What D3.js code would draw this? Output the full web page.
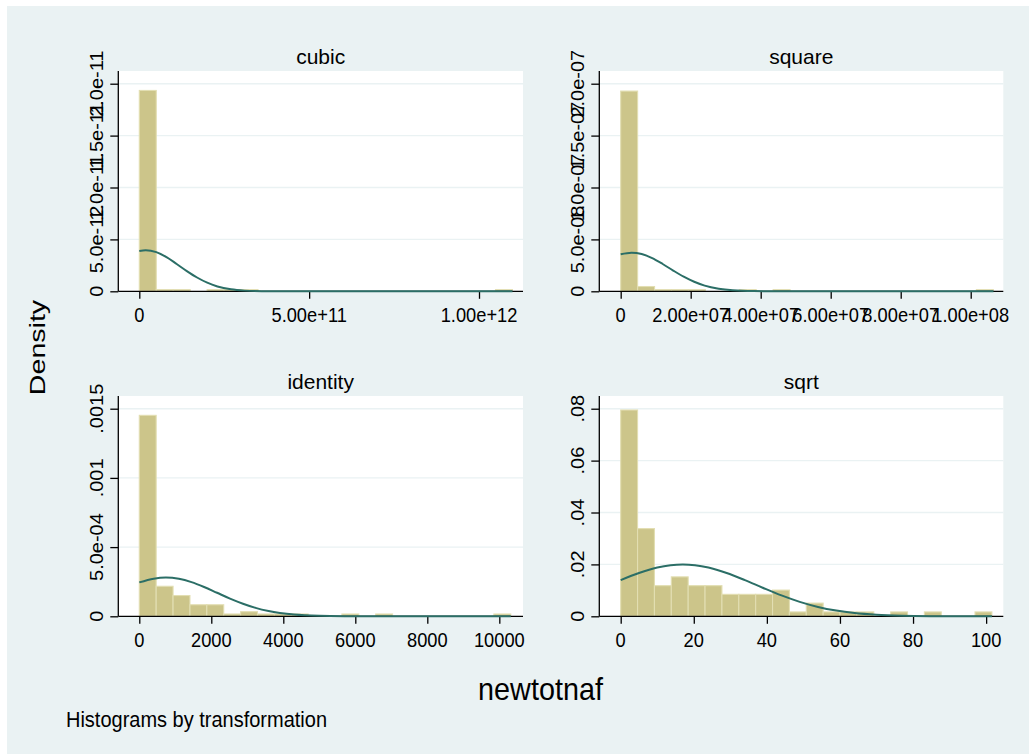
<!DOCTYPE html>
<html><head><meta charset="utf-8">
<script src="https://cdn.jsdelivr.net/npm/d3@7"></script>
<style>
body{margin:0;background:#fff}
svg{display:block}
text{font-family:"Liberation Sans",Arial,sans-serif;fill:#000}
</style>
</head><body>
<svg id="chart" width="1029" height="754"></svg>
<script>
// ---------- data ----------
const panelTitles = ["cubic", "square", "identity", "sqrt"];
const binCount = 22;
const binWidths = [4.993e10, 4.839e6, 469, 4.617];

const cubicDensity = [1.935e-11, 1.6e-13, 1.6e-13, 0, 1.6e-13, 1.6e-13, 1.6e-13, 0, 0, 0, 0, 0, 0, 0, 0, 0, 0, 0, 0, 0, 0, 1.6e-13];
const squareDensity = [1.929e-7, 4.6e-9, 1.6e-9, 1.6e-9, 1.6e-9, 0, 0, 1.6e-9, 0, 1.6e-9, 0, 0, 0, 0, 0, 0, 0, 0, 0, 0, 0, 1.6e-9];
const identityDensity = [0.001452, 0.000217, 0.000150, 0.0000833, 0.0000833, 0.0000167, 0.0000333, 0.0000167, 0.0000167, 0.0000167, 0, 0, 0.0000167, 0, 0.0000167, 0, 0, 0, 0, 0, 0, 0.0000167];
const sqrtDensity = [0.0795, 0.0338, 0.0118, 0.0152, 0.0118, 0.0118, 0.00846, 0.00846, 0.00846, 0.0101, 0.00169, 0.00508, 0.00169, 0.00169, 0.00169, 0, 0.00169, 0, 0.00169, 0, 0, 0.00169];

// normal-density overlay, points
const cubicCurveX = [0, 1.9e10, 5e10, 8e10, 1.1e11, 1.4e11, 1.7e11, 2.0e11, 2.3e11, 2.7e11, 3.1e11, 3.6e11, 4.5e11, 1.0985e12];
const cubicCurveY = [3.88e-12, 3.95e-12, 3.77e-12, 3.29e-12, 2.63e-12, 1.95e-12, 1.33e-12, 8.3e-13, 4.7e-13, 1.9e-13, 6.5e-14, 1.3e-14, 0, 0];
const squareCurveX = [0, 3.1e6, 6e6, 9e6, 1.2e7, 1.5e7, 1.8e7, 2.1e7, 2.4e7, 2.8e7, 3.2e7, 3.8e7, 4.5e7, 6e7, 1.065e8];
const squareCurveY = [3.57e-8, 3.72e-8, 3.59e-8, 3.2e-8, 2.63e-8, 2.0e-8, 1.41e-8, 9.2e-9, 5.5e-9, 2.5e-9, 9.7e-10, 1.8e-10, 2e-11, 0, 0];
const identityCurveX = [0, 400, 740, 1100, 1450, 1800, 2160, 2520, 2880, 3230, 3590, 4300, 5000, 5700, 6500, 8000, 10318];
const identityCurveY = [2.45e-4, 2.72e-4, 2.80e-4, 2.71e-4, 2.47e-4, 2.12e-4, 1.70e-4, 1.28e-4, 9.1e-5, 6.1e-5, 3.8e-5, 1.23e-5, 3.2e-6, 6.7e-7, 8e-8, 0, 0];
const sqrtCurveX = [0, 5, 10, 17, 24, 29, 34, 39, 44, 49, 54, 59, 64, 70, 77, 85, 93, 101.6];
const sqrtCurveY = [0.01394, 0.0167, 0.0188, 0.0200, 0.0188, 0.0167, 0.01394, 0.01092, 0.00804, 0.00556, 0.0036, 0.0022, 0.00126, 0.0006, 0.00022, 0.00006, 0.000015, 0];

// axis domains and ticks
const xDomains = [[-6.18e10, 1.1295e12], [-6.11e6, 1.0931e8], [-583, 10658], [-5.855, 104.7]];
const yDomains = [[0, 2.1224e-11], [0, 2.1224e-7], [0, 0.0015918], [0, 0.0849]];
const cubicXTicks = [0, 5e11, 1e12];
const cubicXLabels = ["0", "5.00e+11", "1.00e+12"];
const cubicYTicks = [0, 5e-12, 1e-11, 1.5e-11, 2e-11];
const cubicYLabels = ["0", "5.0e-12", "1.0e-11", "1.5e-11", "2.0e-11"];
const squareXTicks = [0, 2e7, 4e7, 6e7, 8e7, 1e8];
const squareXLabels = ["0", "2.00e+07", "4.00e+07", "6.00e+07", "8.00e+07", "1.00e+08"];
const squareYTicks = [0, 5e-8, 1e-7, 1.5e-7, 2e-7];
const squareYLabels = ["0", "5.0e-08", "1.0e-07", "1.5e-07", "2.0e-07"];
const identityXTicks = [0, 2000, 4000, 6000, 8000, 10000];
const identityXLabels = ["0", "2000", "4000", "6000", "8000", "10000"];
const identityYTicks = [0, 0.0005, 0.001, 0.0015];
const identityYLabels = ["0", "5.0e-04", ".001", ".0015"];
const sqrtXTicks = [0, 20, 40, 60, 80, 100];
const sqrtXLabels = ["0", "20", "40", "60", "80", "100"];
const sqrtYTicks = [0, 0.02, 0.04, 0.06, 0.08];
const sqrtYLabels = ["0", ".02", ".04", ".06", ".08"];

const yAxisTitle = "Density";
const xAxisTitle = "newtotnaf";
const noteText = "Histograms by transformation";

// ---------- styling / layout ----------
const W = 1029, H = 754;
const BG = "#eaf2f3";
const BAR_FILL = "#ccc58a";
const BAR_STROKE = "#e2deb2";
const CURVE = "#2b6e66";
const GRID = "#eaf2f3";
const SH = 1.12;   // vertical stretch of horizontal text in the reference

const plotBoxes = [
  {x0: 118.3, x1: 523, y0: 71, y1: 291.3},
  {x0: 599.3, x1: 1003.3, y0: 71, y1: 291.3},
  {x0: 118.3, x1: 523, y0: 396, y1: 616.3},
  {x0: 599.3, x1: 1003.3, y0: 396, y1: 616.3}
];

const densities = [cubicDensity, squareDensity, identityDensity, sqrtDensity];
const curvesX = [cubicCurveX, squareCurveX, identityCurveX, sqrtCurveX];
const curvesY = [cubicCurveY, squareCurveY, identityCurveY, sqrtCurveY];
const xTicks = [cubicXTicks, squareXTicks, identityXTicks, sqrtXTicks];
const xLabels = [cubicXLabels, squareXLabels, identityXLabels, sqrtXLabels];
const yTicks = [cubicYTicks, squareYTicks, identityYTicks, sqrtYTicks];
const yLabels = [cubicYLabels, squareYLabels, identityYLabels, sqrtYLabels];

const svg = d3.select("#chart");
svg.append("rect").attr("x", 0).attr("y", 0).attr("width", W).attr("height", H).attr("fill", "#fff");
svg.append("rect").attr("x", 7).attr("y", 6).attr("width", W - 7).attr("height", H - 6).attr("fill", BG);

panelTitles.forEach((title, p) => {
  const b = plotBoxes[p];
  const x = d3.scaleLinear().domain(xDomains[p]).range([b.x0, b.x1]);
  const y = d3.scaleLinear().domain(yDomains[p]).range([b.y1, b.y0]);
  const g = svg.append("g");

  // plot region
  g.append("rect").attr("x", b.x0).attr("y", b.y0).attr("width", b.x1 - b.x0).attr("height", b.y1 - b.y0).attr("fill", "#fff");

  // grid
  g.selectAll(".grid").data(yTicks[p].slice(1)).join("line")
    .attr("x1", b.x0).attr("x2", b.x1)
    .attr("y1", d => y(d)).attr("y2", d => y(d))
    .attr("stroke", GRID).attr("stroke-width", 1.4);

  // bars
  const bw = binWidths[p];
  const bins = densities[p].map((d, i) => ({x0: i * bw, x1: (i + 1) * bw, d}));
  g.selectAll(".bar").data(bins.filter(b => b.d > 0)).join("rect")
    .attr("x", d => x(d.x0)).attr("width", d => x(d.x1) - x(d.x0))
    .attr("y", d => y(d.d)).attr("height", d => y(0) - y(d.d))
    .attr("fill", BAR_FILL).attr("stroke", BAR_STROKE).attr("stroke-width", 1.1);

  // axes
  const yAxis = d3.axisLeft(y).tickValues(yTicks[p]).tickSize(8).tickSizeOuter(0).tickFormat("");
  const ya = g.append("g").attr("transform", `translate(${b.x0},0)`).call(yAxis);
  ya.select(".domain").attr("d", `M0,${b.y0}V${b.y1}`);
  const xAxis = d3.axisBottom(x).tickValues(xTicks[p]).tickSize(7.5).tickSizeOuter(0).tickFormat("");
  const xa = g.append("g").attr("transform", `translate(0,${b.y1})`).call(xAxis);
  xa.select(".domain").attr("d", `M${b.x0},0H${b.x1}`);
  g.selectAll(".domain, .tick line").attr("stroke", "#000").attr("stroke-width", 1.3);

  // normal curve
  const pts = curvesX[p].map((v, i) => [v, curvesY[p][i]]);
  g.append("path").datum(pts)
    .attr("d", d3.line().x(d => x(d[0])).y(d => y(d[1])).curve(d3.curveMonotoneX))
    .attr("fill", "none").attr("stroke", CURVE).attr("stroke-width", 2);

  // y tick labels (rotated)
  g.selectAll(".ylab").data(yTicks[p]).join("text")
    .attr("transform", d => `translate(${b.x0 - 15},${y(d)}) rotate(-90) scale(1.08,1)`)
    .attr("text-anchor", "middle").attr("font-size", 18.5)
    .text((d, i) => yLabels[p][i]);

  // x tick labels
  g.selectAll(".xlab").data(xTicks[p]).join("text")
    .attr("transform", d => `translate(${x(d)},${b.y1 + 30.6}) scale(1,${SH})`)
    .attr("text-anchor", "middle").attr("font-size", 18.3)
    .text((d, i) => xLabels[p][i]);

  // panel title
  g.append("text")
    .attr("transform", `translate(${(b.x0 + b.x1) / 2},${b.y0 - 7}) scale(1,1.0)`)
    .attr("text-anchor", "middle").attr("font-size", 21)
    .text(title);
});

// overall titles
svg.append("text")
  .attr("transform", `translate(45,347.5) rotate(-90) scale(1.3,1)`)
  .attr("text-anchor", "middle").attr("font-size", 22)
  .text(yAxisTitle);
svg.append("text")
  .attr("transform", `translate(540.5,700) scale(1,${SH})`)
  .attr("text-anchor", "middle").attr("font-size", 28.8)
  .text(xAxisTitle);
svg.append("text")
  .attr("transform", `translate(66,727) scale(1,${SH})`)
  .attr("text-anchor", "start").attr("font-size", 20)
  .text(noteText);
</script>
</body></html>
